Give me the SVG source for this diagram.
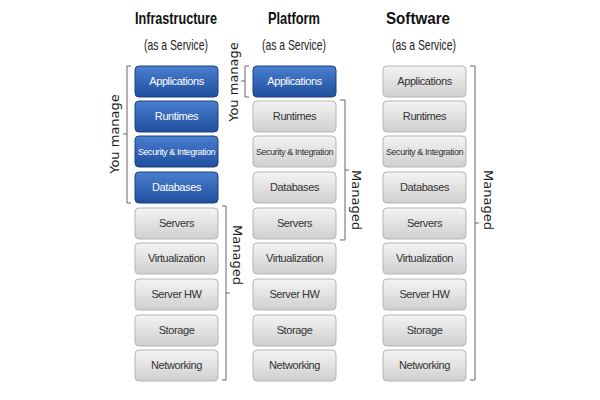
<svg xmlns="http://www.w3.org/2000/svg" width="600" height="400" viewBox="0 0 600 400">
<defs>
<linearGradient id="b" x1="0" y1="0" x2="0" y2="1"><stop offset="0" stop-color="#4a7fcf"/><stop offset="1" stop-color="#1f4f9e"/></linearGradient>
<linearGradient id="g" x1="0" y1="0" x2="0" y2="1"><stop offset="0" stop-color="#f4f4f4"/><stop offset="1" stop-color="#cfcfcf"/></linearGradient>
</defs>
<style>
.bl{fill:url(#b);stroke:#1b417f;stroke-width:1}
.gr{fill:url(#g);stroke:#b5b5b5;stroke-width:1}
.t{font-family:"Liberation Sans",sans-serif;font-size:11px;text-anchor:middle;letter-spacing:-0.4px}
.tw{fill:#fff}.tg{fill:#333}
.h{font-family:"Liberation Sans",sans-serif;font-weight:bold;font-size:17px;text-anchor:middle;fill:#111}
.s{font-family:"Liberation Sans",sans-serif;font-size:15px;text-anchor:middle;fill:#222}
.v{font-family:"DejaVu Sans",sans-serif;font-size:13px;text-anchor:middle;fill:#222}
.br{fill:none;stroke:#666;stroke-width:1}
</style>
<rect width="600" height="400" fill="#fff"/>
<g id="headers">
<text class="h" x="176" y="24" textLength="82" lengthAdjust="spacingAndGlyphs">Infrastructure</text><text class="s" x="176" y="50" textLength="64" lengthAdjust="spacingAndGlyphs">(as a Service)</text>
<text class="h" x="294" y="24" textLength="52" lengthAdjust="spacingAndGlyphs">Platform</text><text class="s" x="294" y="50" textLength="64" lengthAdjust="spacingAndGlyphs">(as a Service)</text>
<text class="h" x="418" y="24" textLength="64" lengthAdjust="spacingAndGlyphs">Software</text><text class="s" x="424" y="50" textLength="64" lengthAdjust="spacingAndGlyphs">(as a Service)</text>
</g>
<g id="iaas">
<rect class="bl" x="135" y="66" width="83" height="31" rx="4"/><text class="t tw" x="176.5" y="85">Applications</text>
<rect class="bl" x="135" y="101" width="83" height="31" rx="4"/><text class="t tw" x="176.5" y="120">Runtimes</text>
<rect class="bl" x="135" y="136" width="83" height="31" rx="4"/><text class="t tw" x="176.5" y="155" style="font-size:9px">Security &amp; Integration</text>
<rect class="bl" x="135" y="172" width="83" height="31" rx="4"/><text class="t tw" x="176.5" y="191">Databases</text>
<rect class="gr" x="135" y="208" width="83" height="31" rx="4"/><text class="t tg" x="176.5" y="227">Servers</text>
<rect class="gr" x="135" y="243" width="83" height="31" rx="4"/><text class="t tg" x="176.5" y="262">Virtualization</text>
<rect class="gr" x="135" y="279" width="83" height="31" rx="4"/><text class="t tg" x="176.5" y="298">Server HW</text>
<rect class="gr" x="135" y="315" width="83" height="31" rx="4"/><text class="t tg" x="176.5" y="334">Storage</text>
<rect class="gr" x="135" y="350" width="83" height="31" rx="4"/><text class="t tg" x="176.5" y="369">Networking</text>
</g>
<g id="paas">
<rect class="bl" x="253" y="66" width="83" height="31" rx="4"/><text class="t tw" x="294.5" y="85">Applications</text>
<rect class="gr" x="253" y="101" width="83" height="31" rx="4"/><text class="t tg" x="294.5" y="120">Runtimes</text>
<rect class="gr" x="253" y="136" width="83" height="31" rx="4"/><text class="t tg" x="294.5" y="155" style="font-size:9px">Security &amp; Integration</text>
<rect class="gr" x="253" y="172" width="83" height="31" rx="4"/><text class="t tg" x="294.5" y="191">Databases</text>
<rect class="gr" x="253" y="208" width="83" height="31" rx="4"/><text class="t tg" x="294.5" y="227">Servers</text>
<rect class="gr" x="253" y="243" width="83" height="31" rx="4"/><text class="t tg" x="294.5" y="262">Virtualization</text>
<rect class="gr" x="253" y="279" width="83" height="31" rx="4"/><text class="t tg" x="294.5" y="298">Server HW</text>
<rect class="gr" x="253" y="315" width="83" height="31" rx="4"/><text class="t tg" x="294.5" y="334">Storage</text>
<rect class="gr" x="253" y="350" width="83" height="31" rx="4"/><text class="t tg" x="294.5" y="369">Networking</text>
</g>
<g id="saas">
<rect class="gr" x="383" y="66" width="83" height="31" rx="4"/><text class="t tg" x="424.5" y="85">Applications</text>
<rect class="gr" x="383" y="101" width="83" height="31" rx="4"/><text class="t tg" x="424.5" y="120">Runtimes</text>
<rect class="gr" x="383" y="136" width="83" height="31" rx="4"/><text class="t tg" x="424.5" y="155" style="font-size:9px">Security &amp; Integration</text>
<rect class="gr" x="383" y="172" width="83" height="31" rx="4"/><text class="t tg" x="424.5" y="191">Databases</text>
<rect class="gr" x="383" y="208" width="83" height="31" rx="4"/><text class="t tg" x="424.5" y="227">Servers</text>
<rect class="gr" x="383" y="243" width="83" height="31" rx="4"/><text class="t tg" x="424.5" y="262">Virtualization</text>
<rect class="gr" x="383" y="279" width="83" height="31" rx="4"/><text class="t tg" x="424.5" y="298">Server HW</text>
<rect class="gr" x="383" y="315" width="83" height="31" rx="4"/><text class="t tg" x="424.5" y="334">Storage</text>
<rect class="gr" x="383" y="350" width="83" height="31" rx="4"/><text class="t tg" x="424.5" y="369">Networking</text>
</g>
<g id="brackets">
<path class="br" d="M131,66 H127 V203 H131 M127,134 H123"/>
<text class="v" transform="translate(119,134) rotate(-90)">You manage</text>
<path class="br" d="M222,206 H226 V380 H222 M226,293 H230"/>
<text class="v" transform="translate(233,255) rotate(90)">Managed</text>
<path class="br" d="M249,66 H245 V97 H249 M245,81 H241"/>
<text class="v" transform="translate(238,82) rotate(-90)">You manage</text>
<path class="br" d="M340,100 H345 V240 H340 M345,170 H349"/>
<text class="v" transform="translate(352,200) rotate(90)">Managed</text>
<path class="br" d="M470,66 H475 V380 H470 M475,223 H479"/>
<text class="v" transform="translate(484,200) rotate(90)">Managed</text>
</g>
</svg>
